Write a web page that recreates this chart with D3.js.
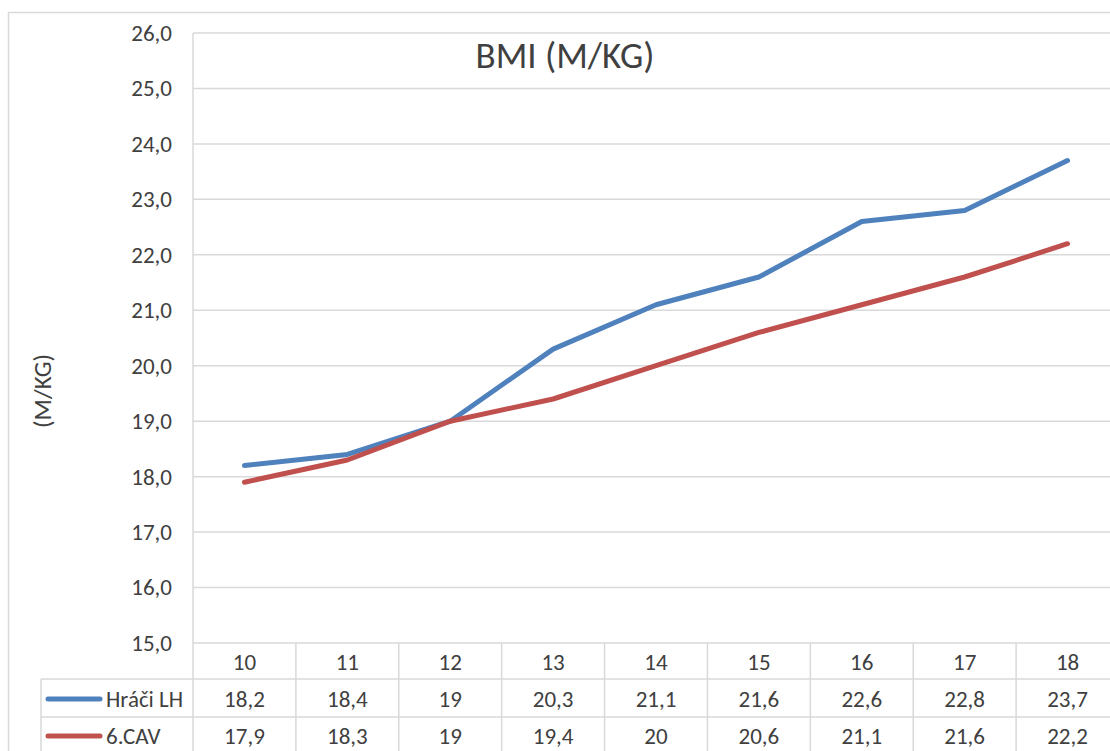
<!DOCTYPE html>
<html><head><meta charset="utf-8">
<script src="https://cdn.jsdelivr.net/npm/d3@7"></script>
<style>html,body{margin:0;padding:0;overflow:hidden;background:#fff}</style>
</head><body>
<script>
const categories = ["10","11","12","13","14","15","16","17","18"];
const seriesNames = ["Hráči LH","6.CAV"];
const hraciLH = [18.2,18.4,19,20.3,21.1,21.6,22.6,22.8,23.7];
const cav6 = [17.9,18.3,19,19.4,20,20.6,21.1,21.6,22.2];
const yTicks = [15,16,17,18,19,20,21,22,23,24,25,26];
const title = "BMI (M/KG)";
const yTitle = "(M/KG)";

const series = [
  {name: seriesNames[0], values: hraciLH, color: "#4F81BD"},
  {name: seriesNames[1], values: cav6, color: "#C0504D"}
];

const W = 1130, H = 770;
const font = "Calibri, Carlito, 'Open Sans', sans-serif";
const fs = 23;
const svg = d3.select("body").append("svg").attr("width", W).attr("height", H)
  .style("font-family", font);

const pLeft = 193, pRight = 1119, pTop = 33, pBottom = 643;
const grid = "#d9d9d9";

// outer chart border
svg.append("rect").attr("x", 8.5).attr("y", 12.5).attr("width", 1200).attr("height", 800)
  .attr("fill", "none").attr("stroke", grid).attr("stroke-width", 1.5);

const x = d3.scaleBand().domain(categories).range([pLeft, pRight]);
const y = d3.scaleLinear().domain([15, 26]).range([pBottom, pTop]);

// horizontal gridlines
svg.append("g").selectAll("line").data(yTicks).join("line")
  .attr("x1", pLeft).attr("x2", pRight)
  .attr("y1", d => y(d)).attr("y2", d => y(d))
  .attr("stroke", grid).attr("stroke-width", 1.5);

// y axis (labels only)
const yAxis = d3.axisLeft(y).tickValues(yTicks).tickSize(0).tickPadding(21)
  .tickFormat(d => d3.format(".1f")(d).replace(".", ","));
const ga = svg.append("g").attr("transform", `translate(${pLeft},0)`).call(yAxis);
ga.select(".domain").remove();
ga.selectAll("text").attr("font-size", fs).attr("fill", "#404040").style("font-family", font);

// left plot border
svg.append("line").attr("x1", pLeft).attr("x2", pLeft).attr("y1", pTop).attr("y2", H)
  .attr("stroke", grid).attr("stroke-width", 1.5);

// data table grid
categories.forEach((c) => {
  const xx = x(c) + x.bandwidth();
  svg.append("line").attr("x1", xx).attr("x2", xx).attr("y1", pBottom).attr("y2", H)
    .attr("stroke", grid).attr("stroke-width", 1.5);
});
[679, 717].forEach(yy => {
  svg.append("line").attr("x1", 41).attr("x2", pRight).attr("y1", yy).attr("y2", yy)
    .attr("stroke", grid).attr("stroke-width", 1.5);
});
svg.append("line").attr("x1", 41).attr("x2", 41).attr("y1", 679).attr("y2", H)
  .attr("stroke", grid).attr("stroke-width", 1.5);

// x axis category labels (in table header)
const xAxis = d3.axisBottom(x).tickSize(0).tickPadding(11);
const gx = svg.append("g").attr("transform", `translate(0,${pBottom})`).call(xAxis);
gx.select(".domain").remove();
gx.selectAll("text").attr("font-size", fs).attr("fill", "#404040").style("font-family", font);

// lines
const line = d3.line().x((d, i) => x(categories[i]) + x.bandwidth() / 2).y(d => y(d));
series.forEach(s => {
  svg.append("path").datum(s.values).attr("d", line)
    .attr("fill", "none").attr("stroke", s.color).attr("stroke-width", 5)
    .attr("stroke-linejoin", "round").attr("stroke-linecap", "round");
});

// table rows
const rowCenters = [699, 736];
series.forEach((s, r) => {
  const cy = rowCenters[r];
  svg.append("line").attr("x1", 48).attr("x2", 100).attr("y1", cy).attr("y2", cy)
    .attr("stroke", s.color).attr("stroke-width", 5).attr("stroke-linecap", "round");
  svg.append("text").attr("x", 106).attr("y", cy).attr("dy", "0.35em")
    .attr("font-size", fs).attr("fill", "#404040").text(s.name);
  s.values.forEach((v, i) => {
    svg.append("text").attr("x", x(categories[i]) + x.bandwidth() / 2).attr("y", cy)
      .attr("dy", "0.35em").attr("text-anchor", "middle")
      .attr("font-size", fs).attr("fill", "#404040")
      .text(String(v).replace(".", ","));
  });
});

// title
svg.append("text").attr("x", 565).attr("y", 68).attr("text-anchor", "middle")
  .attr("font-size", 37).attr("fill", "#404040").text(title);

// y title
svg.append("text").attr("transform", "translate(51,391) rotate(-90)")
  .attr("text-anchor", "middle").attr("font-size", 25).attr("fill", "#404040").text(yTitle);
</script>
</body></html>
